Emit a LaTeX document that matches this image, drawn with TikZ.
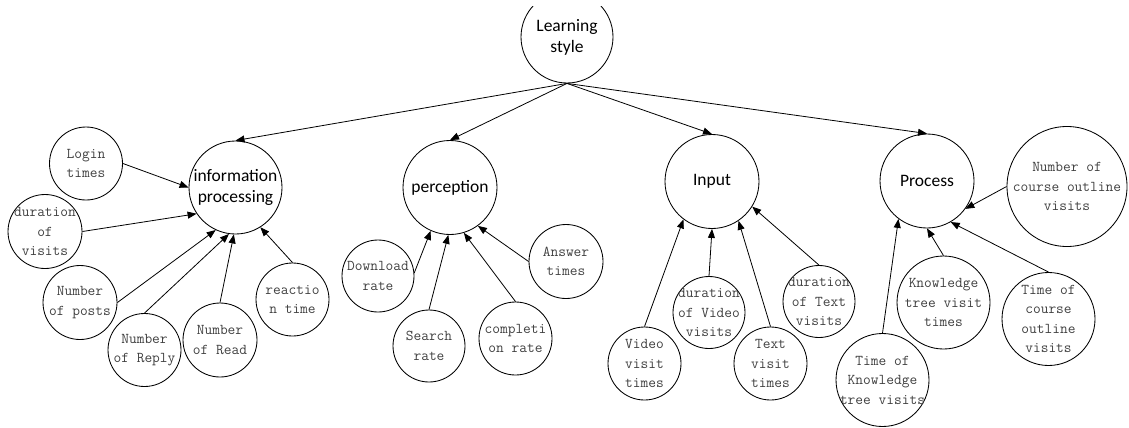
\documentclass[tikz,border=0pt]{standalone}
\usepackage{fontspec}
\newfontfamily\cfont{Carlito}
\usetikzlibrary{arrows.meta}
\definecolor{txtgray}{RGB}{64,64,64}
\tikzset{
  mtxt/.style={font=\cfont\fontsize{17.5}{21}\selectfont,align=center,inner sep=0pt,text=black},
  lt/.style={font=\ttfamily\fontsize{15}{19.5}\selectfont,text=txtgray,align=center,inner sep=0pt},
  mainc/.style={circle,draw,line width=0.85pt,inner sep=0pt,minimum size=94pt,label={[mtxt]center:#1}},
  leafc/.style={circle,draw,line width=0.85pt,inner sep=0pt,minimum size=73pt,label={[lt]center:#1}},
  arr/.style={-{Triangle[length=9pt,width=7pt]},line width=0.8pt},
}
\begin{document}
\begin{tikzpicture}[x=1pt,y=-1pt]
\useasboundingbox (0,0) rectangle (1129,428);
\clip (0,7) rectangle (1129,428);
% main nodes
\node[mainc={Learning\\style},minimum size=92pt] (ls) at (567,37) {};
\node[mainc={information\\processing},minimum size=93pt] (ip) at (235.5,187.5) {};
\node[mainc={perception}] (pc) at (450,187.5) {};
\node[mainc={Input}] (in) at (712,181.5) {};
\node[mainc={Process}] (pr) at (927,181) {};
% leaves: information processing
\node[leafc={Login\\times}] (login) at (86,163.5) {};
\node[leafc={duration\\of\\visits},minimum size=74pt] (dur) at (45,231.5) {};
\node[leafc={Number\\of posts},minimum size=74pt] (posts) at (80,302.5) {};
\node[leafc={Number\\of Reply}] (reply) at (144.5,350) {};
\node[leafc={Number\\of Read},minimum size=74pt] (read) at (220,340) {};
\node[leafc={reactio\\n time}] (react) at (292.5,299.5) {};
% leaves: perception
\node[leafc={Download\\rate},minimum size=72pt] (down) at (378,276) {};
\node[leafc={Search\\rate},minimum size=72pt] (search) at (429,346) {};
\node[leafc={completi\\on rate}] (compl) at (515.5,338.5) {};
\node[leafc={Answer\\times},minimum size=74pt] (answer) at (566,261.5) {};
% leaves: input
\node[leafc={Video\\visit\\times}] (video) at (644.5,363.5) {};
\node[leafc={duration\\of Video\\visits},minimum size=72pt] (durv) at (709,312.5) {};
\node[leafc={Text\\visit\\times}] (text) at (770.5,363.5) {};
\node[leafc={duration\\of Text\\visits},minimum size=72pt] (durt) at (819,301.5) {};
% leaves: process
\node[leafc={Number of\\course outline\\visits},minimum size=120pt] (nco) at (1067,186.5) {};
\node[leafc={Knowledge\\tree visit\\times},minimum size=93pt] (ktv) at (943.5,302.5) {};
\node[leafc={Time of\\course\\outline\\visits},minimum size=93pt] (tco) at (1048.5,319) {};
\node[leafc={Time of\\Knowledge\\tree visits},minimum size=93pt] (tkt) at (882.5,380) {};
% top connectors
\draw[arr] (ls.south) -- (ip.north);
\draw[arr] (ls.south) -- (pc.north);
\draw[arr] (ls.south) -- (in.north);
\draw[arr] (ls.south) -- (pr.north);
% information processing
\draw[arr] (login.east) -- (ip.west);
\draw[arr] (dur.east) -- (ip.214);
\draw[arr] (posts.east) -- (ip.245);
\draw[arr] (reply.north) -- (ip.262);
\draw[arr] (read.north) -- (ip.268);
\draw[arr] (react.north) -- (ip.302);
% perception
\draw[arr] (down.5) -- (pc.246);
\draw[arr] (search.north) -- (pc.268);
\draw[arr] (compl.north) -- (pc.287);
\draw[arr] (answer.west) -- (pc.306);
% input
\draw[arr] (video.north) -- (in.233);
\draw[arr] (durv.north) -- (in.270);
\draw[arr] (text.north) -- (in.304);
\draw[arr] (durt.north) -- (in.328);
% process
\draw[arr] (nco.west) -- (pr.324);
\draw[arr] (ktv.north) -- (pr.270);
\draw[arr] (tco.north) -- (pr.300);
\draw[arr] (tkt.north) -- (pr.233);
\end{tikzpicture}
\end{document}
